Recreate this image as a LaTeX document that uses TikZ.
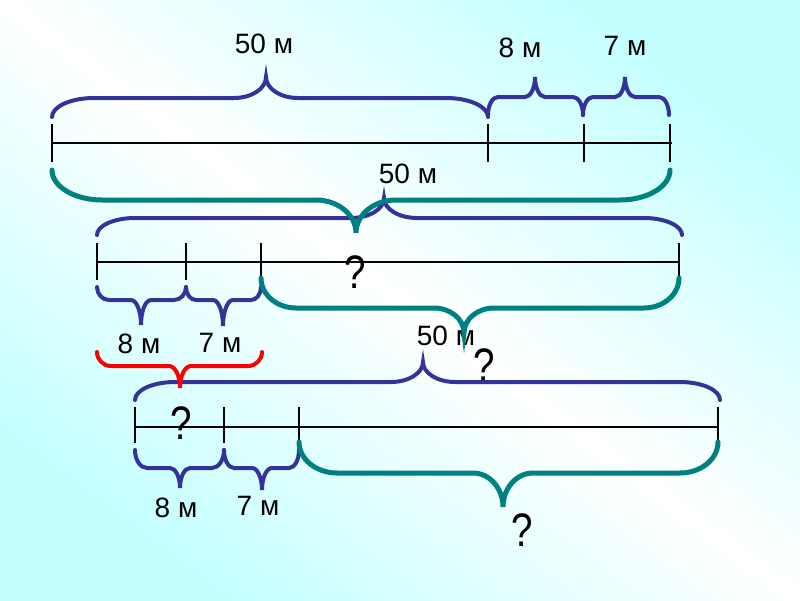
\documentclass[tikz,border=0pt]{standalone}
\usepackage{fontspec}
\setmainfont{Liberation Sans}
\definecolor{bgc}{RGB}{196,255,255}
\definecolor{bbl}{RGB}{51,51,153}
\definecolor{tea}{RGB}{0,128,128}
\definecolor{rd}{RGB}{255,0,0}
\newcommand\mybrace[9]{%
 \draw[#9] (#1,#4) .. controls (#1,{#4+0.552*(#5-#4)}) and ({#1+0.448*#7},#5) .. ({#1+#7},#5)
 -- ({#3-#8},#5) .. controls ({#3-0.448*#8},#5) and (#3,{#6+0.552*(#5-#6)}) .. (#3,#6)
 .. controls (#3,{#6+0.552*(#5-#6)}) and ({#3+0.448*#8},#5) .. ({#3+#8},#5)
 -- ({#2-#7},#5) .. controls ({#2-0.448*#7},#5) and (#2,{#4+0.552*(#5-#4)}) .. (#2,#4);}
\tikzset{
 bluebrace/.style={draw=bbl,line width=4pt,line cap=round},
 tealbrace/.style={draw=tea,line width=5pt,line cap=round},
 redbrace/.style={draw=rd,line width=4pt,line cap=round},
 seg/.style={draw=black,line width=2.6pt},
 tick/.style={draw=black,line width=2pt},
 lbl/.style={inner sep=0pt,anchor=base,font=\fontsize{28}{30}\selectfont},
 qm/.style={inner sep=0pt,anchor=base,font=\fontsize{47}{47}\selectfont,xscale=0.82}
}
\begin{document}
\begin{tikzpicture}[x=1pt,y=-1pt]
\useasboundingbox (0,0) rectangle (800,600);
\shade[top color=bgc,bottom color=bgc,middle color=white,shading angle=-36.87] (0,0) rectangle (800,600);
% line 1
\draw[seg] (52,143) -- (672,143);
\foreach \x in {52,488,584,670} \draw[tick] (\x,124) -- (\x,162);
% line 2
\draw[seg] (97,262) -- (679,262);
\foreach \x in {97,186,261,679} \draw[tick] (\x,243) -- (\x,280);
% line 3
\draw[seg] (135,427) -- (718,427);
\foreach \x in {135,224,299,718} \draw[tick] (\x,407) -- (\x,443);
% labels
\node[lbl] (l50a) at (264,53) {50 м};
\node[lbl] (l8a) at (520,57) {8 м};
\node[lbl] (l7a) at (625,55) {7 м};
\node[lbl] (l50b) at (408,183) {50 м};
\node[lbl] (l8b) at (139,353) {8 м};
\node[lbl] (l7b) at (220,352) {7 м};
\node[lbl] (l50c) at (446,345) {50 м};
\node[lbl] (l8c) at (176,517) {8 м};
\node[lbl] (l7c) at (258,515) {7 м};
\node[qm] (q1) at (355,288) {?};
\node[qm] (q2) at (484,381) {?};
\node[qm] (q3) at (181,439) {?};
\node[qm] (q4) at (522,546) {?};
% blue braces
\mybrace{52}{488}{266}{117}{98}{77}{42}{32}{bluebrace}
\mybrace{488}{583}{535}{115}{97}{77}{10}{10}{bluebrace}
\mybrace{583}{669}{625}{115}{97}{77}{10}{10}{bluebrace}
\mybrace{97}{682}{384}{235}{218}{198}{38}{33}{bluebrace}
\mybrace{97}{186}{141}{287}{300}{325}{12}{10}{bluebrace}
\mybrace{186}{261}{223}{287}{300}{326}{10}{10}{bluebrace}
\mybrace{135}{720}{423}{400}{382}{362}{40}{32}{bluebrace}
\mybrace{135}{224}{180}{450}{468}{488}{12}{10}{bluebrace}
\mybrace{224}{299}{262}{450}{468}{490}{10}{10}{bluebrace}
% teal braces
\mybrace{52}{670}{356}{170}{200}{233}{50}{40}{tealbrace}
\mybrace{261}{679}{464}{278}{308}{333}{35}{30}{tealbrace}
\mybrace{299}{718}{503}{442}{473}{507}{38}{30}{tealbrace}
% red brace
\mybrace{97}{262}{180}{352}{366}{388}{14}{11}{redbrace}
\end{tikzpicture}
\end{document}
